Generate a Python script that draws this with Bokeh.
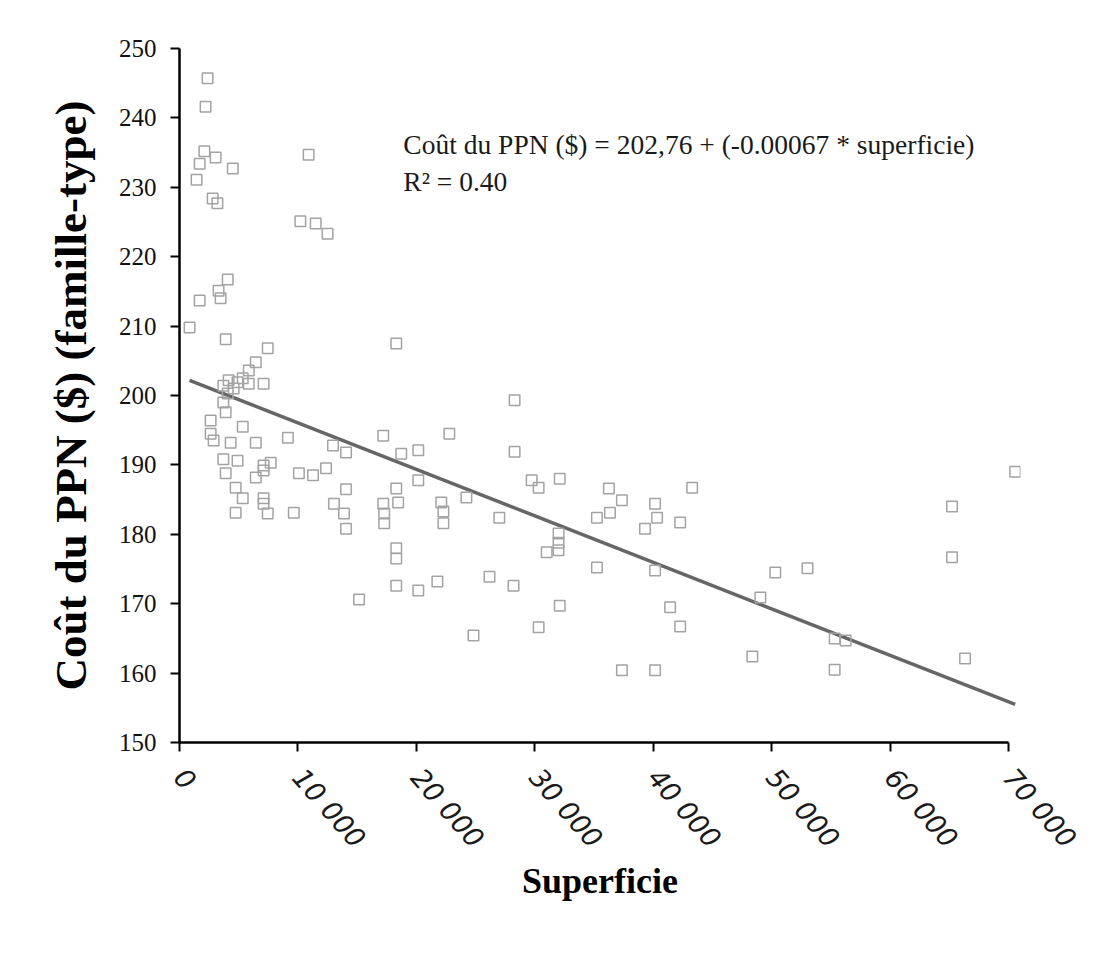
from bokeh.plotting import figure
from bokeh.models import FixedTicker, Label, Range1d
from bokeh.embed import file_html
from bokeh.resources import INLINE

# ---- data ----
superficie = [
    2370, 2200, 2100, 3050, 1700, 4500, 1440, 2800, 3200, 10900,
    10200, 11500, 12500, 4070, 3300, 3470, 1700, 850, 3900, 7450,
    18300, 6440, 5850, 5340, 4150, 4900, 5850, 7100, 3700, 4070,
    4570, 3700, 3900, 2630, 5340, 2630, 2880, 4320, 6440, 9150,
    3700, 4900, 7700, 7100, 7100, 3900, 6440, 4740, 5340, 7100,
    7100, 4740, 7450, 9650, 10080, 11270, 12370, 12960, 14060, 14060,
    13040, 13890, 14060, 17200, 17200, 17280, 17280, 18300, 18460, 18720,
    20160, 20160, 22780, 22100, 22280, 22280, 24220, 18300, 18300, 15160,
    18300, 20160, 21770, 26170, 24820, 28290, 28290, 27000, 29730, 30320,
    32100, 32000, 32000, 32000, 31000, 28200, 35240, 40150, 32100, 30320,
    36250, 37350, 35240, 36340, 40150, 40320, 39300, 42270, 43280, 41420,
    42270, 37350, 40150, 49040, 50300, 53020, 48360, 65220, 65220, 70550,
    55310, 56240, 55310, 66320,
]
cout = [
    245.7, 241.6, 235.2, 234.3, 233.4, 232.7, 231.1, 228.4, 227.7, 234.7,
    225.1, 224.8, 223.3, 216.7, 215.1, 214.0, 213.7, 209.8, 208.1, 206.8,
    207.5, 204.8, 203.6, 202.5, 202.2, 201.9, 201.7, 201.7, 201.4, 200.3,
    201.0, 199.0, 197.6, 196.4, 195.5, 194.5, 193.5, 193.2, 193.2, 193.9,
    190.8, 190.6, 190.3, 189.9, 189.2, 188.8, 188.2, 186.7, 185.2, 185.2,
    184.4, 183.1, 183.0, 183.1, 188.8, 188.5, 189.5, 192.8, 191.8, 186.5,
    184.4, 183.0, 180.8, 194.2, 184.4, 183.0, 181.6, 186.6, 184.6, 191.6,
    192.1, 187.8, 194.5, 184.6, 183.3, 181.6, 185.3, 178.0, 176.5, 170.6,
    172.6, 171.9, 173.2, 173.9, 165.4, 191.9, 199.3, 182.4, 187.8, 186.7,
    188.0, 180.1, 178.8, 177.7, 177.4, 172.6, 175.2, 174.8, 169.7, 166.6,
    186.6, 184.9, 182.4, 183.1, 184.4, 182.4, 180.8, 181.7, 186.7, 169.5,
    166.7, 160.4, 160.4, 170.9, 174.5, 175.1, 162.4, 184.0, 176.7, 189.0,
    165.0, 164.7, 160.5, 162.1,
]
intercept = 202.76
slope = -0.00067

x_ticks = [0, 10000, 20000, 30000, 40000, 50000, 60000, 70000]
x_tick_labels = ["0", "10 000", "20 000", "30 000", "40 000", "50 000", "60 000", "70 000"]
y_ticks = [150, 160, 170, 180, 190, 200, 210, 220, 230, 240, 250]

equation_text = "Coût du PPN ($) = 202,76 + (-0.00067 * superficie)"
r2_text = "R² = 0.40"
x_title = "Superficie"
y_title = "Coût du PPN ($) (famille-type)"

# ---- figure ----
p = figure(
    width=1092, height=956,
    x_range=Range1d(0, 71000), y_range=Range1d(150, 250),
    output_backend="svg", toolbar_location=None,
    min_border_left=179, min_border_right=72,
    min_border_top=48, min_border_bottom=214,
    background_fill_color="white", border_fill_color="white",
)
p.outline_line_color = None
p.grid.visible = False

# regression line over the data extent
x_lo, x_hi = min(superficie), max(superficie)
p.line([x_lo, x_hi], [intercept + slope * x_lo, intercept + slope * x_hi],
       line_color="#666666", line_width=3.5)

p.scatter(superficie, cout, marker="square", size=10.5,
          fill_color=None, line_color="#a3a3a3", line_width=1.5)

# axes
for ax in (p.xaxis, p.yaxis):
    ax.axis_line_color = "black"
    ax.axis_line_width = 2.5
    ax.major_tick_line_color = "black"
    ax.major_tick_line_width = 2
    ax.major_tick_in = 0
    ax.major_tick_out = 9
    ax.minor_tick_line_color = None

p.xaxis.ticker = FixedTicker(ticks=x_ticks)
p.xaxis.major_label_overrides = {t: s for t, s in zip(x_ticks, x_tick_labels)}
p.xaxis.bounds = (0, 70000)
p.xaxis.major_label_orientation = -0.85
p.xaxis.major_label_text_font = "DejaVu Sans"
p.xaxis.major_label_text_font_style = "italic"
p.xaxis.major_label_text_font_size = "27px"
p.xaxis.major_label_text_color = "#1a1a1a"
p.xaxis.major_label_standoff = 21
p.xaxis.axis_label = x_title
p.xaxis.axis_label_text_font = "Liberation Serif"
p.xaxis.axis_label_text_font_style = "bold"
p.xaxis.axis_label_text_font_size = "36px"
p.xaxis.axis_label_text_color = "black"
p.xaxis.axis_label_standoff = -6

p.yaxis.ticker = FixedTicker(ticks=y_ticks)
p.yaxis.major_label_text_font = "Liberation Serif"
p.yaxis.major_label_text_font_size = "25px"
p.yaxis.major_label_text_color = "#111111"
p.yaxis.major_label_standoff = 14
p.yaxis.axis_label = y_title
p.yaxis.axis_label_text_font = "Liberation Serif"
p.yaxis.axis_label_text_font_style = "bold"
p.yaxis.axis_label_text_font_size = "45px"
p.yaxis.axis_label_text_color = "black"
p.yaxis.axis_label_standoff = 20

p.add_layout(Label(x=18900, y=236.1, text=equation_text,
                   text_font="Liberation Serif", text_font_size="27.5px",
                   text_color="#1a1a1a", text_baseline="alphabetic"))
p.add_layout(Label(x=18900, y=230.8, text=r2_text,
                   text_font="Liberation Serif", text_font_size="27.5px",
                   text_color="#1a1a1a", text_baseline="alphabetic"))

open("out.html", "w").write(file_html(p, INLINE))
